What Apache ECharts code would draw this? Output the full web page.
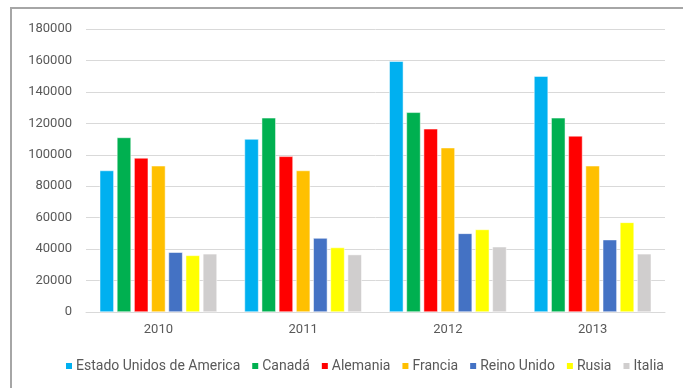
<!DOCTYPE html>
<html>
<head>
<meta charset="utf-8">
<script src="https://cdn.jsdelivr.net/npm/echarts@6/dist/echarts.min.js"></script>
<style>
  html, body { margin: 0; padding: 0; background: #fff; }
  #wrap { position: relative; width: 683px; height: 388px; overflow: hidden; }
  #chart { position: absolute; left: 0; top: 0; width: 683px; height: 388px; }
  /* frame of the pasted chart */
  #frame {
    position: absolute; left: 10px; top: 7px; width: 700px; height: 400px;
    border-left: 2px solid #a6a6a6; border-top: 2px solid #a6a6a6;
    pointer-events: none;
  }
</style>
</head>
<body>
<div id="wrap">
  <div id="chart"></div>
  <div id="frame"></div>
</div>
<script>
// Categories (years)
const years = ["2010", "2011", "2012", "2013"];

// Series values per country
const estadosUnidos = [90000, 110000, 159500, 150000];
const canada = [111000, 123500, 127000, 123500];
const alemania = [98000, 99000, 116500, 112000];
const francia = [93000, 90000, 104500, 93000];
const reinoUnido = [38000, 47000, 50000, 46000];
const rusia = [36000, 41000, 52500, 57000];
const italia = [37000, 36500, 41500, 37000];

const seriesNames = ["Estado Unidos de America", "Canadá", "Alemania", "Francia", "Reino Unido", "Rusia", "Italia"];
const seriesData = [estadosUnidos, canada, alemania, francia, reinoUnido, rusia, italia];
const seriesColors = ["#00B0F0", "#00B050", "#FF0000", "#FFC000", "#4472C4", "#FFFF00", "#D0CECE"];

const chart = echarts.init(document.getElementById("chart"));

const option = {
  animation: false,
  textStyle: { fontFamily: "Roboto" },
  grid: { left: 86, right: 18, top: 29, bottom: 76 },
  legend: {
    bottom: 10,
    left: 59,
    itemWidth: 8,
    itemHeight: 8,
    itemGap: 10,
    icon: "rect",
    textStyle: { color: "#595959", fontSize: 14, padding: [0, 0, 0, -2] },
    data: seriesNames
  },
  xAxis: {
    type: "category",
    data: years,
    axisLine: { lineStyle: { color: "#d9d9d9", width: 1 } },
    axisTick: { show: false },
    axisLabel: { color: "#595959", fontSize: 13, margin: 11 }
  },
  yAxis: {
    type: "value",
    min: 0,
    max: 180000,
    interval: 20000,
    axisLine: { show: false },
    axisTick: { show: false },
    axisLabel: { color: "#595959", fontSize: 13, margin: 14, formatter: (v) => String(v) },
    splitLine: { lineStyle: { color: "#d9d9d9", width: 1 } }
  },
  series: seriesNames.map((name, i) => ({
    name: name,
    type: "bar",
    data: seriesData[i],
    barGap: "22%",
    barCategoryGap: "19%",
    itemStyle: { color: seriesColors[i], borderColor: "#ffffff", borderWidth: 0.5 }
  }))
};

chart.setOption(option);
</script>
</body>
</html>
